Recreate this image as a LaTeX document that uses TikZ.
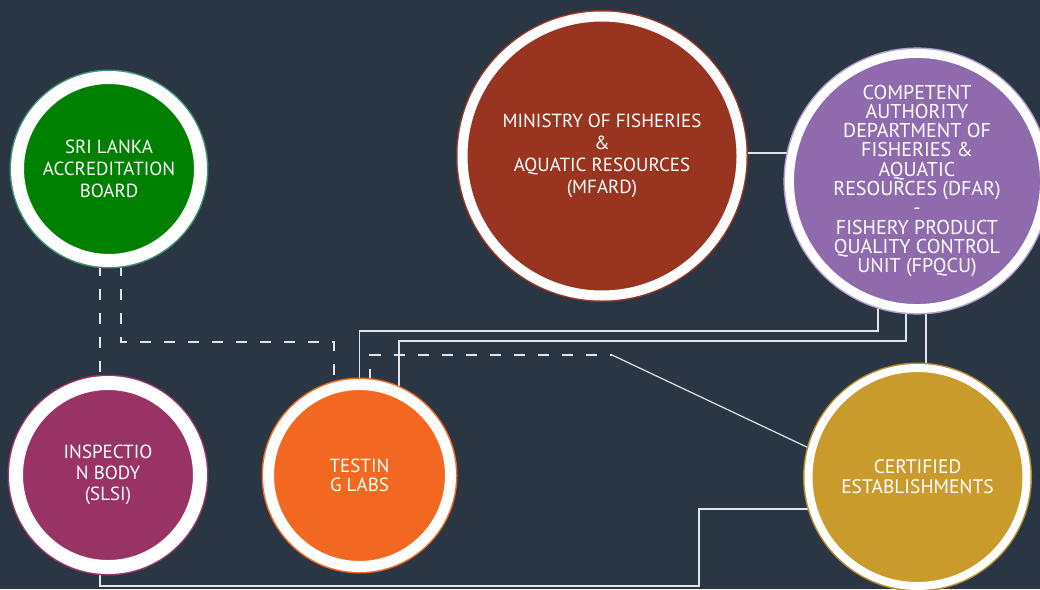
\documentclass[tikz,border=0pt]{standalone}
\usepackage{fontspec}
\setmainfont{PT Sans}
\usetikzlibrary{backgrounds}
\definecolor{bgc}{RGB}{43,54,69}
\definecolor{slabF}{RGB}{0,128,0}
\definecolor{slabB}{RGB}{60,145,110}
\definecolor{slsiF}{RGB}{153,51,102}
\definecolor{testF}{RGB}{243,104,33}
\definecolor{mfardF}{RGB}{152,52,32}
\definecolor{dfarF}{RGB}{143,107,174}
\definecolor{dfarB}{RGB}{180,160,205}
\definecolor{certF}{RGB}{201,155,45}
\definecolor{certB}{RGB}{185,140,40}
\definecolor{lineC}{RGB}{225,228,232}
\tikzset{
  disc/.style n args={3}{circle, fill=#1, draw=white, line width=#3, inner sep=0pt,
    text=white, align=center, preaction={draw=#2, line width=#3+3pt}},
  conn/.style={draw=lineC, line width=1.2pt},
  dconn/.style={draw=lineC, line width=1.2pt, dash pattern=on 11pt off 13pt},
}
\begin{document}
\begin{tikzpicture}[x=1pt,y=-1pt]
\useasboundingbox (0,0) rectangle (1040,589);
\node[disc={slabF}{slabB}{13pt}, minimum size=183pt, font=\fontsize{19}{22}\selectfont] (slab) at (109,169) {SRI LANKA\\ACCREDITATION\\BOARD};
\node[disc={slsiF}{slsiF}{14pt}, minimum size=184pt, font=\fontsize{19}{21}\selectfont] (slsi) at (108,475) {INSPECTIO\\N BODY\\(SLSI)};
\node[disc={testF}{testF}{11pt}, minimum size=182pt, font=\fontsize{19}{19}\selectfont] (test) at (359.5,475.5) {TESTIN\\G LABS};
\node[disc={mfardF}{mfardF}{10pt}, minimum size=279pt, font=\fontsize{19}{22}\selectfont] (mfard) at (602,156) {MINISTRY OF FISHERIES\\\&\\AQUATIC RESOURCES\\(MFARD)};
\node[disc={dfarF}{dfarB}{9pt}, minimum size=248pt, font=\fontsize{20}{19.3}\selectfont] (dfar) at (917,181) {COMPETENT\\AUTHORITY\\DEPARTMENT OF\\FISHERIES \&\\AQUATIC\\RESOURCES (DFAR)\\-\\FISHERY PRODUCT\\QUALITY CONTROL\\UNIT (FPQCU)};
\node[disc={certF}{certB}{8pt}, minimum size=218pt, font=\fontsize{19.5}{20}\selectfont] (cert) at (917.5,477) {CERTIFIED\\ESTABLISHMENTS};
\begin{scope}[on background layer]
\fill[bgc] (0,0) rectangle (1040,589);
\coordinate (j1) at (760,153);
\draw[conn] (mfard.center |- j1) -- (dfar.center |- j1);
\coordinate (k1) at (100,320);
\draw[dconn] (slab.center -| k1) -- (slsi.center -| k1);
\coordinate (k2) at (121,342);
\coordinate (k3) at (334,342);
\draw[dconn] (slab.center -| k2) -- (k2) -- (k3) -- (test.center -| k3);
\coordinate (a1) at (878,331);
\coordinate (a2) at (359.5,331);
\draw[conn] (dfar.center -| a1) -- (a1) -- (a2) -- (test.center);
\coordinate (b1) at (906,341);
\coordinate (b2) at (399,341);
\draw[conn] (dfar.center -| b1) -- (b1) -- (b2) -- (test.center -| b2);
\coordinate (c1) at (926,330);
\draw[conn] (dfar.center -| c1) -- (cert.center -| c1);
\coordinate (e1) at (370,355);
\coordinate (e2) at (612,355);
\draw[dconn] (test.center -| e1) -- (e1) -- (e2);
\draw[conn] (e2) -- (cert.165);
\coordinate (f1) at (100,586);
\coordinate (f2) at (699,586);
\coordinate (f3) at (699,509);
\draw[conn] (slsi.center -| f1) -- (f1) -- (f2) -- (f3) -- (cert.center |- f3);
\end{scope}
\end{tikzpicture}
\end{document}
